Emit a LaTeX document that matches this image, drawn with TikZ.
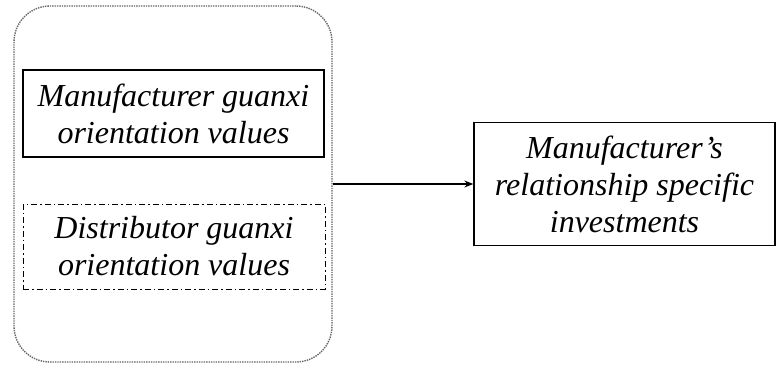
\documentclass[tikz,border=0pt]{standalone}
\usepackage{fontspec}
\setmainfont{Liberation Serif}
\usepackage{tikz}
\usetikzlibrary{arrows.meta}

\tikzset{
    varbox/.style={draw, line width=1.3pt, align=center, inner sep=0pt,
        font=\fontsize{32}{37}\selectfont\itshape},
}

\begin{document}
\begin{tikzpicture}[x=1pt, y=1pt]
    \useasboundingbox (0,0) rectangle (777,-368);
    % Container for the two guanxi values
    \node[draw=black!60, densely dotted, line width=1.4pt, rounded corners=36pt,
        minimum width=318pt, minimum height=356pt] (group) at (173,-184) {};
    \node[varbox, minimum width=301pt, minimum height=87pt] (mgo) at (173.5,-113.5)
        {Manufacturer guanxi\\orientation values};
    \node[varbox, dash pattern=on 6pt off 3pt on 1.5pt off 3pt, line width=1pt,
        minimum width=302pt, minimum height=85pt] (dgo) at (174,-246.5)
        {Distributor guanxi\\orientation values};
    % Outcome
    \node[varbox, minimum width=301pt, minimum height=123pt] (rsi) at (624.5,-184)
        {Manufacturer’s\\relationship specific\\investments};
    \draw[-{Stealth[length=9pt, width=7pt]}, line width=1.3pt] (group.east) -- (rsi.west);
\end{tikzpicture}
\end{document}
